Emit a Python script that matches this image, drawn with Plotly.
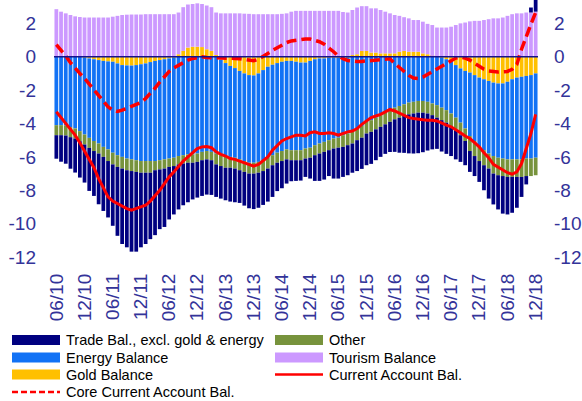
import plotly.graph_objects as go

# месяцы 06/10 .. 12/18
months = []
y, m = 2010, 6
while (y, m) <= (2018, 12):
    months.append(f"{m:02d}/{y % 100:02d}")
    m += 1
    if m > 12:
        m, y = 1, y + 1
tick_labels = months[::6]

trade = [-1.41, -1.59, -1.69, -1.89, -2.04, -2.18, -2.28, -2.58, -2.69, -3.04,
         -3.24, -3.38, -3.68, -4.13, -4.52, -4.62, -4.83, -4.78, -4.47, -4.27,
         -3.98, -3.89, -3.58, -3.50, -3.15, -2.90, -2.70, -2.50, -2.37, -2.20,
         -2.14, -2.14, -2.11, -2.08, -1.95, -1.95, -1.95, -2.03, -2.02, -1.96,
         -2.02, -2.08, -2.13, -2.10, -2.03, -1.98, -1.90, -1.70, -1.63, -1.45,
         -1.26, -1.24, -1.22, -1.10, -1.25, -1.54, -1.64, -1.66, -1.55, -1.80,
         -1.85, -1.80, -1.80, -1.75, -1.85, -1.87, -1.90, -1.92, -1.85, -1.80,
         -1.77, -1.81, -1.95, -2.10, -2.21, -2.34, -2.40, -2.43, -2.37, -2.22,
         -2.05, -1.87, -1.88, -1.87, -1.80, -1.75, -1.60, -1.45, -1.25, -1.20,
         -1.25, -1.50, -1.80, -1.85, -2.05, -2.25, -2.25, -2.15, -1.85, -1.20,
         -0.50, 0.30, 0.90]

energy = [-4.10, -4.10, -4.12, -4.22, -4.30, -4.46, -4.61, -4.76, -4.90, -5.00,
          -5.15, -5.27, -5.45, -5.50, -5.50, -5.58, -5.62, -5.70, -5.80, -5.85,
          -5.93, -6.00, -6.00, -6.00, -6.00, -6.00, -5.95, -5.90, -5.85, -5.85,
          -5.80, -5.70, -5.65, -5.70, -5.80, -5.72, -5.62, -5.45, -5.37, -5.30,
          -5.25, -5.25, -5.23, -5.30, -5.40, -5.45, -5.42, -5.37, -5.35, -5.30,
          -5.35, -5.30, -5.25, -5.15, -5.20, -5.15, -5.10, -5.00, -4.95, -4.85,
          -4.80, -4.65, -4.55, -4.50, -4.30, -4.15, -3.90, -3.80, -3.65, -3.50,
          -3.35, -3.20, -3.05, -2.95, -2.85, -2.75, -2.70, -2.65, -2.65, -2.70,
          -2.80, -2.90, -3.00, -3.05, -3.10, -3.15, -3.25, -3.45, -3.80, -3.95,
          -4.10, -4.25, -4.35, -4.40, -4.45, -4.50, -4.65, -4.80, -4.90, -4.95,
          -4.95, -5.00, -5.05]

gold = [0.00, 0.00, 0.00, 0.00, 0.00, 0.00, -0.05, -0.10, -0.15, -0.20,
        -0.25, -0.28, -0.30, -0.40, -0.50, -0.52, -0.53, -0.50, -0.45, -0.40,
        -0.32, -0.25, -0.20, -0.15, -0.10, -0.05, 0.15, 0.35, 0.55, 0.60,
        0.60, 0.58, 0.45, 0.35, 0.10, -0.18, -0.38, -0.55, -0.68, -0.85,
        -1.00, -1.10, -1.12, -1.00, -0.80, -0.60, -0.48, -0.38, -0.30, -0.25,
        -0.25, -0.30, -0.35, -0.35, -0.25, -0.15, -0.10, -0.10, -0.05, -0.05,
        -0.05, -0.05, -0.05, 0.10, 0.15, 0.35, 0.35, 0.25, 0.25, 0.20,
        0.20, 0.20, 0.20, 0.30, 0.35, 0.30, 0.30, 0.30, 0.20, 0.15,
        0.05, 0.00, -0.05, -0.15, -0.30, -0.50, -0.70, -0.85, -0.95, -1.10,
        -1.25, -1.35, -1.45, -1.55, -1.60, -1.60, -1.50, -1.35, -1.25, -1.20,
        -1.15, -1.10, -1.00]

other = [-0.60, -0.60, -0.60, -0.60, -0.60, -0.60, -0.60, -0.60, -0.60, -0.60,
         -0.60, -0.70, -0.70, -0.70, -0.70, -0.70, -0.70, -0.70, -0.70, -0.70,
         -0.70, -0.55, -0.55, -0.55, -0.50, -0.50, -0.50, -0.50, -0.50, -0.50,
         -0.50, -0.50, -0.50, -0.50, -0.65, -0.65, -0.65, -0.65, -0.65, -0.65,
         -0.65, -0.65, -0.65, -0.65, -0.65, -0.65, -0.60, -0.60, -0.60, -0.60,
         -0.60, -0.60, -0.60, -0.60, -0.60, -0.60, -0.60, -0.60, -0.60, -0.60,
         -0.60, -0.70, -0.70, -0.70, -0.70, -0.70, -0.70, -0.70, -0.70, -0.70,
         -0.70, -0.70, -0.70, -0.70, -0.70, -0.70, -0.70, -0.70, -0.70, -0.70,
         -0.70, -0.75, -0.75, -0.75, -0.75, -0.75, -0.75, -0.75, -0.90, -0.90,
         -0.90, -0.90, -0.90, -1.05, -1.05, -1.05, -1.05, -1.05, -1.05, -1.05,
         -1.05, -1.05, -1.05]

tourism = [2.85, 2.70, 2.60, 2.50, 2.42, 2.38, 2.35, 2.35, 2.35, 2.35,
           2.35, 2.35, 2.40, 2.45, 2.50, 2.52, 2.53, 2.53, 2.53, 2.55,
           2.55, 2.55, 2.55, 2.55, 2.55, 2.55, 2.50, 2.62, 2.58, 2.56,
           2.60, 2.58, 2.62, 2.62, 2.55, 2.60, 2.60, 2.60, 2.60, 2.60,
           2.58, 2.57, 2.55, 2.55, 2.55, 2.55, 2.55, 2.55, 2.57, 2.60,
           2.70, 2.75, 2.75, 2.75, 2.75, 2.75, 2.75, 2.75, 2.75, 2.75,
           2.75, 2.68, 2.65, 2.70, 2.80, 2.68, 2.68, 2.65, 2.65, 2.60,
           2.50, 2.40, 2.30, 2.15, 2.02, 2.00, 1.90, 1.90, 1.90, 1.82,
           1.85, 1.75, 1.75, 1.75, 1.80, 1.90, 2.00, 2.05, 2.12, 2.15,
           2.15, 2.20, 2.25, 2.30, 2.30, 2.35, 2.45, 2.55, 2.60, 2.60,
           2.65, 2.65, 2.70]

current_acc = [-3.30, -3.65, -4.00, -4.30, -4.70, -5.15, -5.65, -6.15, -6.65, -7.30,
               -7.90, -8.40, -8.65, -8.80, -8.95, -9.10, -9.20, -9.10, -9.00, -8.90,
               -8.65, -8.35, -8.00, -7.60, -7.20, -6.90, -6.55, -6.25, -6.00, -5.75,
               -5.50, -5.40, -5.38, -5.45, -5.70, -5.85, -5.95, -6.10, -6.15, -6.25,
               -6.35, -6.45, -6.55, -6.45, -6.25, -6.00, -5.60, -5.35, -5.05, -4.90,
               -4.80, -4.70, -4.70, -4.75, -4.55, -4.50, -4.60, -4.60, -4.55, -4.60,
               -4.70, -4.60, -4.50, -4.45, -4.30, -4.05, -3.85, -3.65, -3.55, -3.45,
               -3.30, -3.16, -3.25, -3.40, -3.55, -3.65, -3.70, -3.75, -3.78, -3.80,
               -3.80, -3.85, -4.00, -4.10, -4.20, -4.35, -4.55, -4.75, -4.90, -5.15,
               -5.40, -5.75, -6.05, -6.45, -6.60, -6.75, -6.95, -7.04, -6.90, -6.40,
               -5.55, -4.60, -3.45]

core_acc = [0.72, 0.40, 0.05, -0.35, -0.70, -1.00, -1.30, -1.65, -2.00, -2.35,
            -2.70, -3.00, -3.20, -3.28, -3.20, -3.10, -3.00, -2.90, -2.75, -2.50,
            -2.22, -1.88, -1.52, -1.18, -0.88, -0.67, -0.50, -0.35, -0.20, -0.10,
            -0.03, 0.00, -0.05, -0.05, -0.05, -0.05, -0.06, -0.08, -0.10, -0.12,
            -0.15, -0.20, -0.24, -0.15, 0.00, 0.20, 0.38, 0.55, 0.72, 0.85,
            0.95, 1.00, 1.05, 1.06, 1.06, 1.00, 0.90, 0.75, 0.55, 0.30,
            0.05, -0.12, -0.22, -0.26, -0.28, -0.28, -0.25, -0.20, -0.20, -0.18,
            -0.15, -0.12, -0.40, -0.65, -0.90, -1.12, -1.28, -1.30, -1.22, -1.05,
            -0.88, -0.72, -0.58, -0.38, -0.20, -0.08, -0.03, -0.08, -0.20, -0.40,
            -0.60, -0.75, -0.85, -0.90, -0.92, -0.90, -0.88, -0.75, -0.45, 0.45,
            1.25, 1.95, 2.65]

FONT = "Arial, Liberation Sans, sans-serif"
AXIS_COL = "#333399"
W, H = 582, 401
ML, MR, MT, MB = 54, 44, 0, 144
PW, PH = W - ML - MR, H - MT - MB


def px_x(px):
    return (px - ML) / PW


def px_y(py):
    return (MT + PH - py) / PH


fig = go.Figure()

# порядок важен для стека: золото ближе к нулю
bars = [
    ("Gold Balance", gold, "#FFC000"),
    ("Energy Balance", energy, "#1272F5"),
    ("Other", other, "#77933C"),
    ("Tourism Balance", tourism, "#CC99FF"),
    ("Trade Bal., excl. gold & energy", trade, "#000080"),
]
for name, vals, col in bars:
    fig.add_trace(go.Bar(x=months, y=vals, name=name, marker_color=col,
                         marker_line_width=0, showlegend=False))

fig.add_trace(go.Scatter(x=months, y=current_acc, mode="lines", name="Current Account Bal.",
                         line=dict(color="#FF0000", width=3), yaxis="y2", showlegend=False))
fig.add_trace(go.Scatter(x=months, y=core_acc, mode="lines", name="Core Current Account Bal.",
                         line=dict(color="#FF0000", width=3.5, dash="10px,5px"),
                         yaxis="y2", showlegend=False))

yticks = list(range(-12, 3, 2))
ytext = [str(v) for v in yticks]  # обычный дефис, как в оригинале
yrange = [-12, 3.4]
fig.update_layout(
    width=W, height=H,
    margin=dict(l=ML, r=MR, t=MT, b=MB),
    paper_bgcolor="white", plot_bgcolor="white",
    barmode="relative", bargap=0.2,
    font=dict(family=FONT),
    xaxis=dict(type="category", range=[-0.5, len(months) - 0.5],
               tickmode="array", tickvals=tick_labels, ticktext=tick_labels,
               tickangle=-90, tickfont=dict(size=19, color=AXIS_COL),
               showgrid=False, zeroline=False, showline=False, ticks="",
               ticklabelstandoff=12),
    yaxis=dict(range=yrange, tickmode="array", tickvals=yticks, ticktext=ytext,
               tickfont=dict(size=19, color=AXIS_COL),
               showgrid=False, zeroline=False, showline=False, ticks="",
               ticklabelstandoff=17),
    yaxis2=dict(range=yrange, tickmode="array", tickvals=yticks, ticktext=ytext,
                tickfont=dict(size=19, color=AXIS_COL),
                overlaying="y", side="right", showgrid=False, zeroline=False,
                showline=False, ticks="", ticklabelstandoff=15),
)

# линия нуля
fig.add_shape(type="line", xref="paper", yref="y", x0=0, x1=1, y0=0, y1=0,
              line=dict(color="#14148C", width=1.5), layer="above")

# легенда вручную (широкие значки как в оригинале)
legend = [
    ("Trade Bal., excl. gold & energy", "#000080", "bar", 0, 0),
    ("Other", "#77933C", "bar", 1, 0),
    ("Energy Balance", "#1272F5", "bar", 0, 1),
    ("Tourism Balance", "#CC99FF", "bar", 1, 1),
    ("Gold Balance", "#FFC000", "bar", 0, 2),
    ("Current Account Bal.", "#FF0000", "line", 1, 2),
    ("Core Current Account Bal.", "#FF0000", "dash", 0, 3),
]
col_x = [12, 275]
row_y = [340, 357.5, 374.5, 392]
for text, col, kind, c, r in legend:
    x0, x1 = col_x[c], col_x[c] + 48
    yc = row_y[r]
    if kind == "bar":
        fig.add_shape(type="rect", xref="paper", yref="paper",
                      x0=px_x(x0), x1=px_x(x1), y0=px_y(yc + 5), y1=px_y(yc - 5),
                      fillcolor=col, line_width=0)
    else:
        fig.add_shape(type="line", xref="paper", yref="paper",
                      x0=px_x(x0), x1=px_x(x1), y0=px_y(yc), y1=px_y(yc),
                      line=dict(color=col, width=2.5,
                                dash="solid" if kind == "line" else "6px,3px"))
    fig.add_annotation(text=text, xref="paper", yref="paper", x=px_x(x1 + 4), y=px_y(yc),
                       xanchor="left", yanchor="middle", showarrow=False,
                       font=dict(size=14.5, color="black", family=FONT))

# убираем отступ body, чтобы график встал в окно 582x401 целиком
fig.write_html("out.html", config={"displayModeBar": False},
               post_script="document.body.style.margin='0';")
